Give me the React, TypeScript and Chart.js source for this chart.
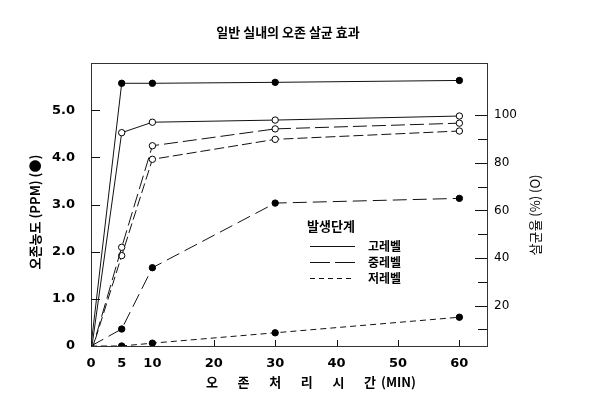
import React, { useEffect, useRef } from "react";
import { Chart, registerables } from "chart.js";

Chart.register(...registerables);

const minutes = [0, 5, 10, 30, 60];
const ppmHigh = [0, 5.57, 5.57, 5.59, 5.63];
const ppmMid = [0, 0.36, 1.66, 3.03, 3.13];
const ppmLow = [0, 0.0, 0.06, 0.28, 0.61];
const killHigh = [0, 92.7, 97.1, 98.0, 99.7];
const killMid = [0, 44.5, 87.2, 94.3, 96.7];
const killLow = [0, 41.0, 81.5, 89.9, 93.4];

const xTicks = [0, 5, 10, 20, 30, 40, 50, 60];
const leftTicks = [0, 1, 2, 3, 4, 5];
const rightTicks = [10, 20, 30, 40, 50, 60, 70, 80, 90, 100];

const titleText = "일반 실내의 오존 살균 효과";
const leftTitle = "오존농도 (PPM) (●)";
const rightTitle = "살균율 (%) (O)";
const xTitleChars = ["오", "존", "처", "리", "시", "간"];
const xTitleUnit = "(MIN)";
const legendHeader = "발생단계";
const legendLabels = ["고레벨", "중레벨", "저레벨"];

const KFONT = '"Noto Sans CJK KR", sans-serif';

function pts(ys: number[]) {
  return minutes.map((m, i) => ({ x: m, y: ys[i] }));
}

const radius = (c: any) => (c.parsed && c.parsed.x === 0 ? 0 : 3.2);

const drawPlugin = {
  id: "decor",
  beforeDatasetsDraw(chart: any) {
    const { ctx, chartArea: a, scales } = chart;
    ctx.save();
    ctx.strokeStyle = "#333";
    ctx.lineWidth = 1;
    ctx.strokeRect(a.left + 0.5, a.top + 0.5, a.right - a.left, a.bottom - a.top);
    ctx.strokeStyle = "#111";
    ctx.beginPath();
    leftTicks.forEach((v) => {
      if (v === 0) return;
      const y = Math.round(scales.y.getPixelForValue(v)) + 0.5;
      ctx.moveTo(a.left, y);
      ctx.lineTo(a.left + 9, y);
    });
    rightTicks.forEach((v) => {
      const y = Math.round(scales.y1.getPixelForValue(v)) + 0.5;
      const len = v % 20 === 0 ? 12 : 9;
      ctx.moveTo(a.right, y);
      ctx.lineTo(a.right - len, y);
    });
    xTicks.forEach((v) => {
      if (v < 20) return;
      const x = Math.round(scales.x.getPixelForValue(v)) + 0.5;
      ctx.moveTo(x, a.bottom);
      ctx.lineTo(x, a.bottom - 6);
    });
    ctx.stroke();
    ctx.restore();
  },
  afterDraw(chart: any) {
    const { ctx } = chart;
    ctx.save();
    ctx.fillStyle = "#000";
    ctx.font = `bold 13px ${KFONT}`;
    ctx.textAlign = "center";
    ctx.textBaseline = "middle";
    ctx.fillText(titleText, 288, 32);

    ctx.save();
    ctx.translate(35, 212);
    ctx.rotate(-Math.PI / 2);
    ctx.font = `bold 13px ${KFONT}`;
    ctx.fillText(leftTitle, 0, 0);
    ctx.restore();

    ctx.save();
    ctx.translate(535, 215);
    ctx.rotate(-Math.PI / 2);
    ctx.font = `13px ${KFONT}`;
    ctx.fillText(rightTitle, 0, 0);
    ctx.restore();

    ctx.font = `bold 13px ${KFONT}`;
    ctx.textAlign = "left";
    xTitleChars.forEach((ch, i) => {
      ctx.fillText(ch, 206 + i * 31.6, 382);
    });
    ctx.fillText(xTitleUnit, 381, 382);

    ctx.font = `bold 13px ${KFONT}`;
    ctx.fillText(legendHeader, 307, 226);
    const dashes = [[], [20, 5], [5, 4]];
    ctx.font = `bold 12px ${KFONT}`;
    legendLabels.forEach((lab, i) => {
      const y = 246 + i * 16;
      ctx.strokeStyle = "#111";
      ctx.lineWidth = 1;
      ctx.setLineDash(dashes[i]);
      ctx.beginPath();
      ctx.moveTo(310, y + 0.5);
      ctx.lineTo(355, y + 0.5);
      ctx.stroke();
      ctx.setLineDash([]);
      ctx.fillText(lab, 368, y);
    });
    ctx.restore();
  },
};

export default function App() {
  const ref = useRef<HTMLCanvasElement | null>(null);
  useEffect(() => {
    if (!ref.current) return;
    const base = {
      borderColor: "#111",
      borderWidth: 1,
      pointRadius: radius,
      pointHoverRadius: radius,
      pointBorderColor: "#000",
      pointBorderWidth: 1,
      tension: 0,
      fill: false,
    };
    const chart = new Chart(ref.current, {
      type: "line",
      data: {
        datasets: [
          { ...base, label: "고레벨 PPM", data: pts(ppmHigh), yAxisID: "y", pointBackgroundColor: "#000" },
          { ...base, label: "중레벨 PPM", data: pts(ppmMid), yAxisID: "y", borderDash: [14, 6], pointBackgroundColor: "#000" },
          { ...base, label: "저레벨 PPM", data: pts(ppmLow), yAxisID: "y", borderDash: [6, 4], pointBackgroundColor: "#000" },
          { ...base, label: "고레벨 %", data: pts(killHigh), yAxisID: "y1", pointBackgroundColor: "#fff" },
          { ...base, label: "중레벨 %", data: pts(killMid), yAxisID: "y1", borderDash: [14, 5], pointBackgroundColor: "#fff" },
          { ...base, label: "저레벨 %", data: pts(killLow), yAxisID: "y1", borderDash: [10, 4], pointBackgroundColor: "#fff" },
        ],
      },
      options: {
        responsive: false,
        animation: false,
        devicePixelRatio: 1,
        layout: { padding: { top: 63, left: 0, right: 0, bottom: 0 } },
        plugins: { legend: { display: false }, tooltip: { enabled: false }, title: { display: false } },
        scales: {
          x: {
            type: "linear",
            min: 0,
            max: 64.5,
            grid: { display: false, drawTicks: false },
            border: { display: false },
            afterBuildTicks: (s: any) => {
              s.ticks = xTicks.map((v) => ({ value: v }));
            },
            afterFit: (s: any) => {
              s.height = 50;
            },
            ticks: {
              autoSkip: false,
              maxRotation: 0,
              padding: 10,
              color: "#000",
              font: { family: "DejaVu Sans", size: 13, weight: "bold" },
              callback: (v: any) => String(v),
            },
          },
          y: {
            position: "left",
            min: 0,
            max: 6,
            grid: { display: false, drawTicks: false },
            border: { display: false },
            afterBuildTicks: (s: any) => {
              s.ticks = leftTicks.map((v) => ({ value: v }));
            },
            afterFit: (s: any) => {
              s.width = 91;
            },
            ticks: {
              padding: 16,
              color: "#000",
              font: { family: "DejaVu Sans", size: 13, weight: "bold" },
              callback: (v: any) => (v === 0 ? "0" : Number(v).toFixed(1)),
            },
          },
          y1: {
            position: "right",
            min: 3,
            max: 122,
            grid: { display: false, drawTicks: false },
            border: { display: false },
            afterBuildTicks: (s: any) => {
              s.ticks = rightTicks.map((v) => ({ value: v }));
            },
            afterFit: (s: any) => {
              s.width = 106;
            },
            ticks: {
              padding: 7,
              color: "#000",
              font: { family: "DejaVu Sans", size: 12 },
              callback: (v: any) => (v % 20 === 0 ? String(v) : ""),
            },
          },
        },
      },
      plugins: [drawPlugin],
    } as any);
    return () => chart.destroy();
  }, []);
  return (
    <div style={{ position: "fixed", left: 0, top: 0, width: 593, height: 396, background: "#fff" }}>
      <canvas ref={ref} width={593} height={396} />
    </div>
  );
}
